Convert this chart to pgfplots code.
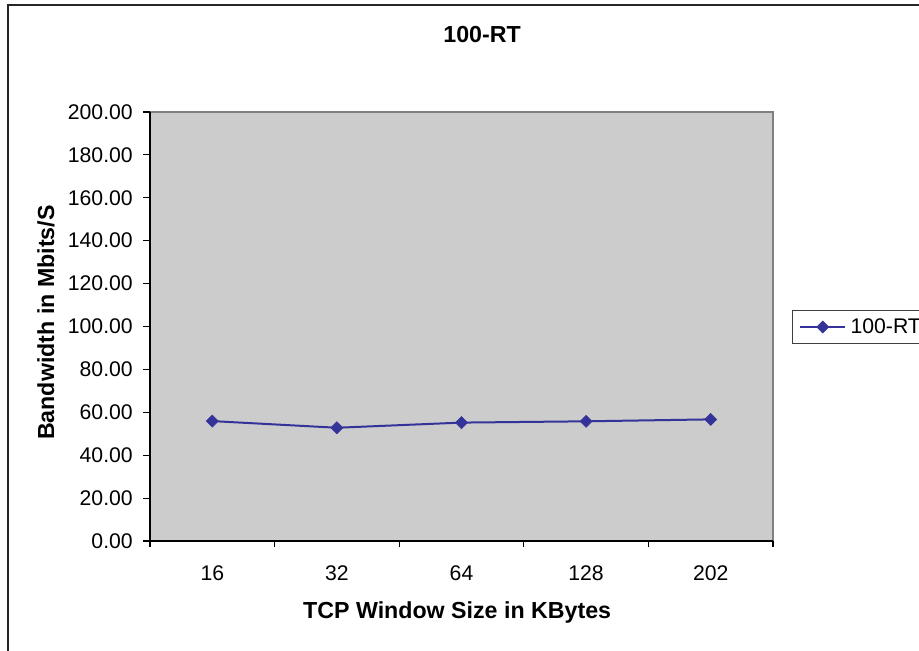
\documentclass[border=0pt]{standalone}
\usepackage{fontspec}
\setmainfont{Liberation Sans}
\usepackage{pgfplots}
\pgfplotsset{compat=1.18}
\definecolor{seriesblue}{RGB}{51,51,153}
\definecolor{plotgray}{RGB}{204,204,204}
\definecolor{framegray}{RGB}{128,128,128}
\newcommand{\tickfont}{\fontsize{15.9}{18}\selectfont}
\newcommand{\labelfont}{\fontsize{17.4}{20}\selectfont\bfseries}
\begin{document}
\begin{tikzpicture}
\path[use as bounding box] (0,0) rectangle (689.25pt,487.5pt);
% chart area frame
\draw[line width=1.3pt, black!85] (6pt,-2pt) -- (6pt,483.75pt) -- (700pt,483.75pt);
\begin{axis}[
  at={(112.5pt,81.75pt)}, anchor=south west,
  scale only axis, width=467.25pt, height=321.75pt,
  xmin=-0.5, xmax=4.5, ymin=0, ymax=200,
  axis x line*=bottom, axis y line*=left,
  axis line style={black, line width=0.8pt},
  axis background/.style={fill=plotgray, draw=framegray, line width=1pt},
  xtick={0,...,4}, xticklabels={16,32,64,128,202},
  major x tick style={draw=none},
  minor xtick={-0.5,0.5,...,4.5},
  minor x tick style={black, line width=0.8pt},
  ytick={0,20,...,200},
  y tick style={black, line width=0.8pt},
  tick align=outside,
  major tick length=5pt, minor tick length=4.5pt,
  /pgf/number format/assume math mode=true,
  yticklabel={\pgfmathprintnumber[fixed, fixed zerofill, precision=2]{\tick}},
  scaled y ticks=false,
  tick label style={font=\tickfont},
  yticklabel style={anchor=east, inner sep=0pt, xshift=-7.75pt},
  xticklabel style={anchor=center, inner sep=0pt, yshift=-19pt},
  title={100-RT},
  title style={font=\labelfont, at={(0.533,1)}, anchor=center, yshift=51.75pt},
  xlabel={TCP Window Size in KBytes},
  xlabel style={font=\labelfont, at={(0.493,0)}, anchor=center, yshift=-53.25pt},
  ylabel={Bandwidth in Mbits/S},
  ylabel style={font=\labelfont, at={(0,0.509)}, anchor=center, yshift=78pt},
  legend style={at={(1.0305,0.4988)}, anchor=west, draw=black!75, line width=0.8pt,
    fill=white, font=\tickfont, inner xsep=5pt, inner ysep=4pt,
    nodes={inner xsep=3.3pt}},
  legend image code/.code={\draw[#1, mark repeat=2, mark phase=2]
    plot coordinates {(0pt,0pt) (16.9pt,0pt) (33.75pt,0pt)};},
]
\addplot[seriesblue, line width=1.5pt, mark=square*, mark size=3.2pt,
  mark options={solid, rotate=45, fill=seriesblue, line width=0.4pt}]
  coordinates {(0,55.9) (1,52.8) (2,55.2) (3,55.8) (4,56.7)};
\addlegendentry{100-RT}
\end{axis}
\end{tikzpicture}
\end{document}
